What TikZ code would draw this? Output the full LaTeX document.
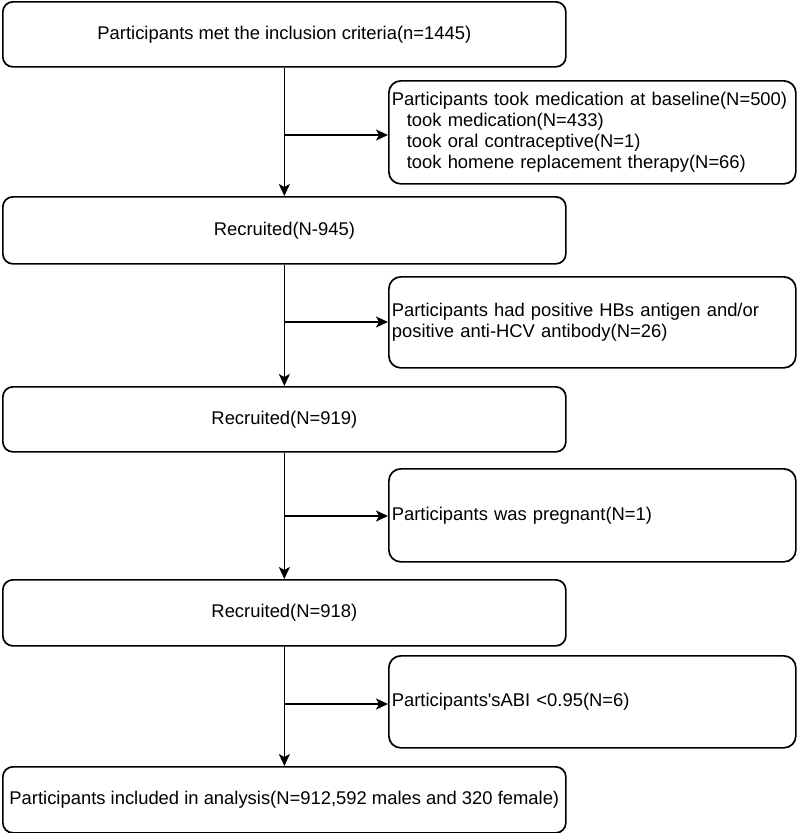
\documentclass[tikz,border=0pt]{standalone}
\usepackage{fontspec}
\setmainfont{Liberation Sans}
\usetikzlibrary{arrows.meta}
\begin{document}
\begin{tikzpicture}[x=1pt,y=-1pt,
  txt/.style={font=\fontsize{18.4}{21}\selectfont},
  mainbox/.style={txt, draw, line width=1.7pt, rounded corners=10pt, minimum width=563pt, minimum height=65pt, inner sep=0pt, anchor=north west},
  sidebox/.style={txt, draw, line width=1.7pt, rounded corners=12pt, minimum width=407pt, inner xsep=3pt, inner ysep=0pt, text width=401pt, align=left, anchor=north west},
  conn/.style={line width=1.6pt, -{Stealth[length=12pt,width=11pt,inset=3pt]}}]
\useasboundingbox (0,0) rectangle (797,833);

\node[mainbox, minimum height=65pt] (b1) at (2,1) {Participants met the inclusion criteria(n=1445)};
\node[mainbox, minimum height=67pt] (b2) at (2,196) {Recruited(N-945)};
\node[mainbox, minimum height=65pt] (b3) at (2,386) {Recruited(N=919)};
\node[mainbox, minimum height=66pt] (b4) at (2,579) {Recruited(N=918)};
\node[mainbox, minimum height=66pt] (b5) at (2,766) {Participants included in analysis(N=912,592 males and 320 female)};

\node[sidebox, minimum height=103pt] (s1) at (388,80) {Participants took medication at baseline(N=500)\\\hspace*{15pt}took medication(N=433)\\\hspace*{15pt}took oral contraceptive(N=1)\\\hspace*{15pt}took homene replacement therapy(N=66)};
\node[sidebox, minimum height=91pt] (s2) at (388,276) {Participants had positive HBs antigen and/or\\positive anti-HCV antibody(N=26)};
\node[sidebox, minimum height=93pt] (s3) at (388,468) {Participants was pregnant(N=1)};
\node[sidebox, minimum height=92pt] (s4) at (388,655) {Participants\textquotesingle sABI <0.95(N=6)};

\draw[conn] (b1.south) -- (b2.north);
\draw[conn] (b2.south) -- (b3.north);
\draw[conn] (b3.south) -- (b4.north);
\draw[conn] (b4.south) -- (b5.north);

\coordinate (j1) at (283.5,135);
\coordinate (j2) at (283.5,322);
\coordinate (j3) at (283.5,516);
\coordinate (j4) at (283.5,704);
\draw[conn] (j1) -- (j1 -| s1.west);
\draw[conn] (j2) -- (j2 -| s2.west);
\draw[conn] (j3) -- (j3 -| s3.west);
\draw[conn] (j4) -- (j4 -| s4.west);
\end{tikzpicture}
\end{document}
